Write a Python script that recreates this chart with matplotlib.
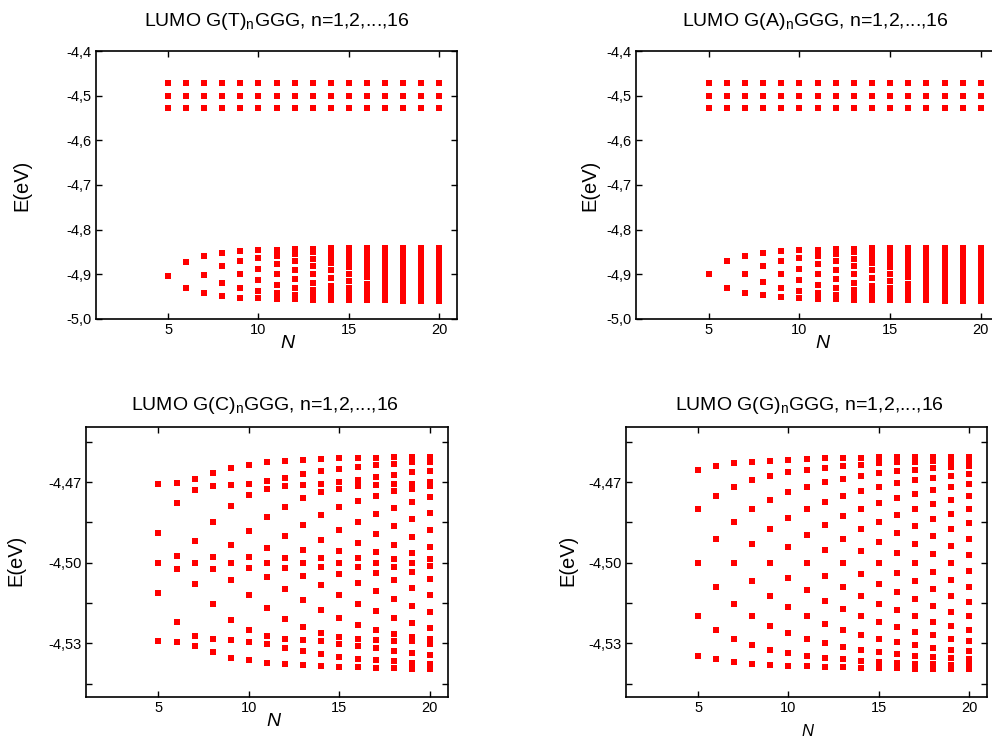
import matplotlib
matplotlib.use("Agg")
import matplotlib.pyplot as plt
from matplotlib.ticker import FixedLocator, FuncFormatter

plt.rcParams['font.family'] = ['Liberation Sans', 'DejaVu Sans']
plt.rcParams['mathtext.default'] = 'regular'

# --- DATA ---
N_values = list(range(5, 21))

# top panels: three levels near -4.5 eV (same for every N)
upper_levels = [-4.472, -4.500, -4.528]

# top panels: lower band, one list per N (N=5..20)
band_T = [
    [-4.903],
    [-4.872, -4.930],
    [-4.858, -4.901, -4.942],
    [-4.852, -4.882, -4.919, -4.948],
    [-4.848, -4.870, -4.900, -4.930, -4.952],
    [-4.846, -4.863, -4.887, -4.913, -4.937, -4.954],
    [-4.845, -4.858, -4.877, -4.900, -4.923, -4.942, -4.955],
    [-4.844, -4.854, -4.870, -4.890, -4.910, -4.930, -4.946, -4.956],
    [-4.843, -4.851, -4.865, -4.881, -4.900, -4.919, -4.935, -4.949, -4.957],
    [-4.842, -4.850, -4.861, -4.875, -4.891, -4.909, -4.925, -4.939, -4.950, -4.958],
    [-4.842, -4.848, -4.858, -4.870, -4.884, -4.900, -4.916, -4.930, -4.942, -4.952, -4.958],
    [-4.842, -4.847, -4.855, -4.866, -4.879, -4.893, -4.907, -4.921, -4.934, -4.945, -4.953, -4.958],
    [-4.842, -4.846, -4.853, -4.863, -4.874, -4.887, -4.900, -4.913, -4.926, -4.937, -4.947, -4.954, -4.958],
    [-4.841, -4.845, -4.851, -4.860, -4.870, -4.881, -4.894, -4.906, -4.919, -4.930, -4.940, -4.949, -4.955, -4.959],
    [-4.841, -4.845, -4.850, -4.858, -4.867, -4.877, -4.888, -4.900, -4.912, -4.923, -4.933, -4.942, -4.950, -4.955, -4.959],
    [-4.841, -4.844, -4.849, -4.856, -4.864, -4.873, -4.884, -4.894, -4.906, -4.916, -4.927, -4.936, -4.944, -4.951, -4.956, -4.959],
]
band_A = [
    [-4.900],
    [-4.870, -4.930],
    [-4.858, -4.900, -4.941],
    [-4.852, -4.881, -4.918, -4.947],
    [-4.848, -4.870, -4.900, -4.930, -4.951],
    [-4.846, -4.863, -4.887, -4.913, -4.937, -4.953],
    [-4.845, -4.858, -4.877, -4.900, -4.923, -4.942, -4.955],
    [-4.844, -4.854, -4.870, -4.890, -4.910, -4.930, -4.946, -4.956],
    [-4.843, -4.851, -4.865, -4.881, -4.900, -4.919, -4.935, -4.949, -4.957],
    [-4.842, -4.850, -4.861, -4.875, -4.891, -4.909, -4.925, -4.939, -4.950, -4.958],
    [-4.842, -4.848, -4.858, -4.870, -4.884, -4.900, -4.916, -4.930, -4.942, -4.952, -4.958],
    [-4.842, -4.847, -4.855, -4.866, -4.879, -4.893, -4.907, -4.921, -4.934, -4.945, -4.953, -4.958],
    [-4.842, -4.846, -4.853, -4.863, -4.874, -4.887, -4.900, -4.913, -4.926, -4.937, -4.947, -4.954, -4.958],
    [-4.841, -4.845, -4.851, -4.860, -4.870, -4.881, -4.894, -4.906, -4.919, -4.930, -4.940, -4.949, -4.955, -4.959],
    [-4.841, -4.845, -4.850, -4.858, -4.867, -4.877, -4.888, -4.900, -4.912, -4.923, -4.933, -4.942, -4.950, -4.955, -4.959],
    [-4.841, -4.844, -4.849, -4.856, -4.864, -4.873, -4.884, -4.894, -4.906, -4.916, -4.927, -4.936, -4.944, -4.951, -4.956, -4.959],
]

# bottom-left: G(C)n GGG levels per N
levels_C = [
    [-4.4709, -4.4888, -4.5000, -4.5112, -4.5291],
    [-4.4704, -4.4779, -4.4976, -4.5024, -4.5221, -4.5296],
    [-4.4689, -4.4728, -4.4921, -4.5000, -4.5079, -4.5272, -4.5311],
    [-4.4666, -4.4716, -4.4847, -4.4978, -4.5022, -4.5153, -4.5284, -4.5334],
    [-4.4647, -4.4711, -4.4788, -4.4936, -4.5000, -4.5064, -4.5212, -4.5289, -4.5353],
    [-4.4636, -4.4706, -4.4748, -4.4881, -4.4980, -4.5020, -4.5119, -4.5252, -4.5294, -4.5364],
    [-4.4627, -4.4697, -4.4726, -4.4831, -4.4946, -4.5000, -4.5054, -4.5169, -4.5274, -4.5303, -4.5373],
    [-4.4622, -4.4683, -4.4716, -4.4791, -4.4902, -4.4982, -4.5018, -4.5098, -4.5209, -4.5284, -4.5317, -4.5378],
    [-4.4618, -4.4670, -4.4711, -4.4760, -4.4860, -4.4952, -4.5000, -4.5048, -4.5140, -4.5240, -4.5289, -4.5330, -4.5382],
    [-4.4614, -4.4659, -4.4707, -4.4738, -4.4823, -4.4916, -4.4983, -4.5017, -4.5084, -4.5177, -4.5262, -4.5293, -4.5341, -4.5386],
    [-4.4612, -4.4650, -4.4699, -4.4724, -4.4793, -4.4880, -4.4957, -4.5000, -4.5043, -4.5120, -4.5207, -4.5276, -4.5301, -4.5350, -4.5388],
    [-4.4611, -4.4643, -4.4691, -4.4716, -4.4769, -4.4847, -4.4926, -4.4983, -4.5017, -4.5074, -4.5153, -4.5231, -4.5284, -4.5309, -4.5357, -4.5389],
    [-4.4609, -4.4638, -4.4681, -4.4712, -4.4750, -4.4820, -4.4894, -4.4962, -4.5000, -4.5038, -4.5106, -4.5180, -4.5250, -4.5288, -4.5319, -4.5362, -4.5391],
    [-4.4608, -4.4633, -4.4672, -4.4708, -4.4734, -4.4795, -4.4865, -4.4934, -4.4985, -4.5015, -4.5066, -4.5135, -4.5205, -4.5266, -4.5292, -4.5328, -4.5367, -4.5392],
    [-4.4606, -4.4627, -4.4664, -4.4707, -4.4725, -4.4775, -4.4838, -4.4906, -4.4964, -4.5000, -4.5036, -4.5094, -4.5162, -4.5225, -4.5275, -4.5293, -4.5336, -4.5373, -4.5394],
    [-4.4606, -4.4624, -4.4657, -4.4698, -4.4715, -4.4757, -4.4816, -4.4879, -4.4940, -4.4986, -4.5014, -4.5060, -4.5121, -4.5184, -4.5243, -4.5285, -4.5302, -4.5343, -4.5376, -4.5394],
]

# bottom-right: G(G)n GGG levels per N
levels_G = [
    [-4.4654, -4.4800, -4.5000, -4.5200, -4.5346],
    [-4.4640, -4.4751, -4.4911, -4.5089, -4.5249, -4.5360],
    [-4.4630, -4.4717, -4.4847, -4.5000, -4.5153, -4.5283, -4.5370],
    [-4.4624, -4.4694, -4.4800, -4.4931, -4.5069, -4.5200, -4.5306, -4.5376],
    [-4.4620, -4.4676, -4.4765, -4.4876, -4.5000, -4.5124, -4.5235, -4.5324, -4.5380],
    [-4.4616, -4.4664, -4.4738, -4.4834, -4.4943, -4.5057, -4.5166, -4.5262, -4.5336, -4.5384],
    [-4.4614, -4.4654, -4.4717, -4.4800, -4.4897, -4.5000, -4.5103, -4.5200, -4.5283, -4.5346, -4.5386],
    [-4.4612, -4.4646, -4.4701, -4.4773, -4.4858, -4.4952, -4.5048, -4.5142, -4.5227, -4.5299, -4.5354, -4.5388],
    [-4.4610, -4.4640, -4.4687, -4.4751, -4.4826, -4.4911, -4.5000, -4.5089, -4.5174, -4.5249, -4.5313, -4.5360, -4.5390],
    [-4.4609, -4.4635, -4.4676, -4.4732, -4.4800, -4.4876, -4.4958, -4.5042, -4.5124, -4.5200, -4.5268, -4.5324, -4.5365, -4.5391],
    [-4.4608, -4.4630, -4.4667, -4.4717, -4.4778, -4.4847, -4.4922, -4.5000, -4.5078, -4.5153, -4.5222, -4.5283, -4.5333, -4.5370, -4.5392],
    [-4.4607, -4.4627, -4.4660, -4.4704, -4.4759, -4.4822, -4.4891, -4.4963, -4.5037, -4.5109, -4.5178, -4.5241, -4.5296, -4.5340, -4.5373, -4.5393],
    [-4.4606, -4.4624, -4.4654, -4.4694, -4.4743, -4.4800, -4.4863, -4.4931, -4.5000, -4.5069, -4.5137, -4.5200, -4.5257, -4.5306, -4.5346, -4.5376, -4.5394],
    [-4.4605, -4.4622, -4.4648, -4.4684, -4.4729, -4.4781, -4.4839, -4.4902, -4.4967, -4.5033, -4.5098, -4.5161, -4.5219, -4.5271, -4.5316, -4.5352, -4.5378, -4.5395],
    [-4.4605, -4.4620, -4.4644, -4.4676, -4.4717, -4.4765, -4.4818, -4.4876, -4.4937, -4.5000, -4.5063, -4.5124, -4.5182, -4.5235, -4.5283, -4.5324, -4.5356, -4.5380, -4.5395],
    [-4.4605, -4.4618, -4.4640, -4.4670, -4.4707, -4.4751, -4.4800, -4.4854, -4.4911, -4.4970, -4.5030, -4.5089, -4.5146, -4.5200, -4.5249, -4.5293, -4.5330, -4.5360, -4.5382, -4.5395],
]

titles = ['LUMO G(T)$_n$GGG, n=1,2,...,16', 'LUMO G(A)$_n$GGG, n=1,2,...,16',
          'LUMO G(C)$_n$GGG, n=1,2,...,16', 'LUMO G(G)$_n$GGG, n=1,2,...,16']

# --- FIGURE ---
W, H = 992, 738
fig = plt.figure(figsize=(W / 100, H / 100), dpi=100)


def px_axes(l, t, r, b):
    return fig.add_axes([l / W, 1 - b / H, (r - l) / W, (b - t) / H])


ax_T = px_axes(96, 51, 457, 319)
ax_A = px_axes(636, 51, 999, 319)
ax_C = px_axes(86, 427, 448, 697)
ax_G = px_axes(626, 427, 987, 697)

mk = dict(marker='s', ls='none', ms=4.8, color='#ff0000', mew=0)

for ax, band in [(ax_T, band_T), (ax_A, band_A)]:
    for n, lo in zip(N_values, band):
        vals = upper_levels + lo
        ax.plot([n] * len(vals), vals, **mk)
    ax.set_ylim(-5.0, -4.4)
    ax.yaxis.set_major_locator(FixedLocator([-5.0, -4.9, -4.8, -4.7, -4.6, -4.5, -4.4]))
    ax.yaxis.set_major_formatter(FuncFormatter(lambda v, p: f"{v:.1f}".replace('.', ',')))

for ax, levels in [(ax_C, levels_C), (ax_G, levels_G)]:
    for n, vals in zip(N_values, levels):
        ax.plot([n] * len(vals), vals, **mk)
    ax.set_ylim(-4.55, -4.4495)
    ax.yaxis.set_major_locator(FixedLocator([-4.53, -4.50, -4.47]))
    ax.yaxis.set_minor_locator(FixedLocator([-4.545, -4.515, -4.485, -4.455]))
    ax.yaxis.set_major_formatter(FuncFormatter(lambda v, p: f"{v:.2f}".replace('.', ',')))

for ax in [ax_T, ax_A, ax_C, ax_G]:
    ax.set_xlim(1, 21)
    ax.xaxis.set_major_locator(FixedLocator([5, 10, 15, 20]))
    ax.tick_params(which='both', direction='in', top=True, right=True,
                   length=4.5, width=1.0, labelsize=10.5, pad=3)
    for s in ax.spines.values():
        s.set_linewidth(1.2)

# titles
fig.text(277 / W, 1 - 22 / H, titles[0], ha='center', va='center', fontsize=14)
fig.text(815 / W, 1 - 22 / H, titles[1], ha='center', va='center', fontsize=14)
fig.text(265 / W, 1 - 405 / H, titles[2], ha='center', va='center', fontsize=14)
fig.text(810 / W, 1 - 405 / H, titles[3], ha='center', va='center', fontsize=14)

# axis labels
fig.text(22 / W, 1 - 185 / H, 'E(eV)', rotation=90, ha='center', va='center', fontsize=14.5)
fig.text(590 / W, 1 - 185 / H, 'E(eV)', rotation=90, ha='center', va='center', fontsize=14.5)
fig.text(16 / W, 1 - 560 / H, 'E(eV)', rotation=90, ha='center', va='center', fontsize=14.5)
fig.text(568 / W, 1 - 560 / H, 'E(eV)', rotation=90, ha='center', va='center', fontsize=14.5)

fig.text(287 / W, 1 - 344 / H, 'N', style='italic', ha='center', va='center', fontsize=14)
fig.text(822 / W, 1 - 344 / H, 'N', style='italic', ha='center', va='center', fontsize=14)
fig.text(273 / W, 1 - 722 / H, 'N', style='italic', ha='center', va='center', fontsize=14)
fig.text(807 / W, 1 - 731 / H, 'N', style='italic', ha='center', va='center', fontsize=12)

fig.savefig('out.png', dpi=100)
